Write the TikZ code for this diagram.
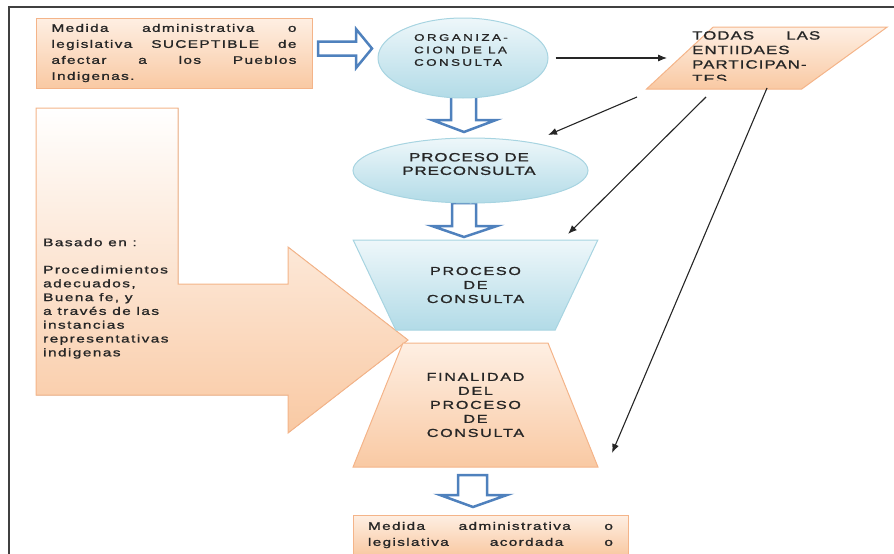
\documentclass[tikz,border=0pt]{standalone}
\usepackage{fontspec}
\newfontfamily\dfont[FakeStretch=1.4, FakeBold=1.3]{Liberation Sans}
\usetikzlibrary{shapes.geometric,arrows.meta}

\definecolor{peachlite}{HTML}{FEEFE3}
\definecolor{peachdark}{HTML}{F9C9A3}
\definecolor{peachline}{HTML}{F4B489}
\definecolor{bluelite}{HTML}{EEF7FA}
\definecolor{bluedark}{HTML}{B2DBE7}
\definecolor{blueline}{HTML}{A7D4E1}
\definecolor{arrowblue}{HTML}{4F81BD}

\tikzset{
  peach/.style={draw=peachline, line width=1pt, top color=peachlite, bottom color=peachdark},
  skyblue/.style={draw=blueline, line width=1pt, top color=bluelite, bottom color=bluedark},
  hollow/.style={draw=arrowblue, line width=2.5pt, fill=white, line join=miter},
  conn/.style={draw=black!85, line width=1.1pt, -{Latex[length=9pt,width=7pt]}},
  ftop/.style={text=black!85, font=\dfont\fontsize{11}{16}\selectfont\addfontfeature{LetterSpace=12}},
  fsmall/.style={text=black!85, font=\dfont\fontsize{9.5}{12.5}\selectfont\addfontfeature{LetterSpace=26}},
  fbig/.style={text=black!85, font=\dfont\fontsize{12}{13.5}\selectfont\addfontfeature{LetterSpace=8}},
  fpar/.style={text=black!85, font=\dfont\fontsize{12}{14.5}\selectfont\addfontfeature{LetterSpace=9}},
  fmid/.style={text=black!85, font=\dfont\fontsize{11.5}{14}\selectfont\addfontfeature{LetterSpace=15}},
  fside/.style={text=black!85, font=\dfont\fontsize{11}{13.8}\selectfont\addfontfeature{LetterSpace=13}},
}

\begin{document}
\begin{tikzpicture}[x=1pt, y=-1pt]
\clip (0,0) rectangle (894,554);

% flechas huecas
\draw[hollow] (318,41.5) -- (356,41.5) -- (356,29) -- (372,48.5) -- (356,68) -- (356,55.5) -- (318,55.5) -- cycle;
\draw[hollow] (451,96) -- (476,96) -- (476,120) -- (496,120) -- (464,132) -- (432,120) -- (451,120) -- cycle;
\draw[hollow] (452,203) -- (476,203) -- (476,226) -- (497,226) -- (464,237) -- (432,226) -- (452,226) -- cycle;
\draw[hollow] (458,475) -- (487,475) -- (487,495) -- (507,495) -- (473,507) -- (440,495) -- (458,495) -- cycle;

% flecha grande
\filldraw[peach, top color=white] (36,108) -- (178,108) -- (178,284) -- (288,284) -- (288,247) -- (408,340)
  -- (288,433) -- (288,395) -- (36,395) -- cycle;
\node[fside, anchor=north west, align=left, inner sep=0pt] (bas) at (43,238)
  {Basado en :\\[13.5pt]Procedimientos\\adecuados,\\Buena fe, y\\a través de las\\instancias\\representativas\\indigenas};

% formas
\node[peach, rectangle, minimum width=276pt, minimum height=70pt, text width=245pt, align=justify, ftop] (med) at (174,53)
  {Medida administrativa o\linebreak legislativa SUCEPTIBLE de\linebreak afectar a los Pueblos\linebreak Indigenas.};

\node[skyblue, ellipse, minimum width=170pt, minimum height=80pt] (org) at (463,58) {};
\node[fsmall, align=left] (orgt) at (461,50) {ORGANIZA-\\CION DE LA\\CONSULTA};

\node[peach, trapezium, trapezium left angle=53, trapezium right angle=134, trapezium stretches=true,
  minimum width=241pt, minimum height=62pt] (par) at (757.5,58) {};
\begin{scope}
  \clip (600,20) rectangle (890,80);
  \node[fpar, anchor=north west, text width=128pt, align=justify, inner sep=0pt] (part) at (692,31)
    {TODAS LAS\linebreak ENTIIDAES\\PARTICIPAN-\\TES};
\end{scope}

\node[skyblue, ellipse, minimum width=235pt, minimum height=65pt] (pre) at (470.5,170.5) {};
\node[fbig, align=center] (pret) at (469,164) {PROCESO DE\\PRECONSULTA};

\node[skyblue, trapezium, trapezium left angle=57, trapezium right angle=57, trapezium stretches=true,
  shape border rotate=180, minimum width=245pt, minimum height=90pt, align=center, fmid] (pro) at (475.5,285)
  {PROCESO\\DE\\CONSULTA};

\node[peach, trapezium, trapezium left angle=63, trapezium right angle=63, trapezium stretches=true,
  minimum width=245pt, minimum height=124pt, align=center, fmid] (fin) at (475.5,405)
  {FINALIDAD\\DEL\\PROCESO\\DE\\CONSULTA};

\node[peach, rectangle, minimum width=275pt, minimum height=40pt, text width=245pt, align=justify, ftop] (res) at (490.5,535)
  {Medida administrativa o\linebreak legislativa\hfill acordada\hfill o};

% conectores
\draw[conn, shorten <=7pt, shorten >=12pt] (org) -- (par);
\draw[conn] ([shift={(-120.5,39)}]par.center) -- ([shift={(77.5,-35.5)}]pre.center);
\draw[conn] ([shift={(-51.5,39)}]par.center) -- ([shift={(92.5,-51)}]pro.center);
\draw[conn] ([shift={(9.5,30)}]par.center) -- ([shift={(136.5,48)}]fin.center);

% marco
\draw[line width=2pt, black!75] (9,554) -- (9,7) -- (894,7);
\end{tikzpicture}
\end{document}
